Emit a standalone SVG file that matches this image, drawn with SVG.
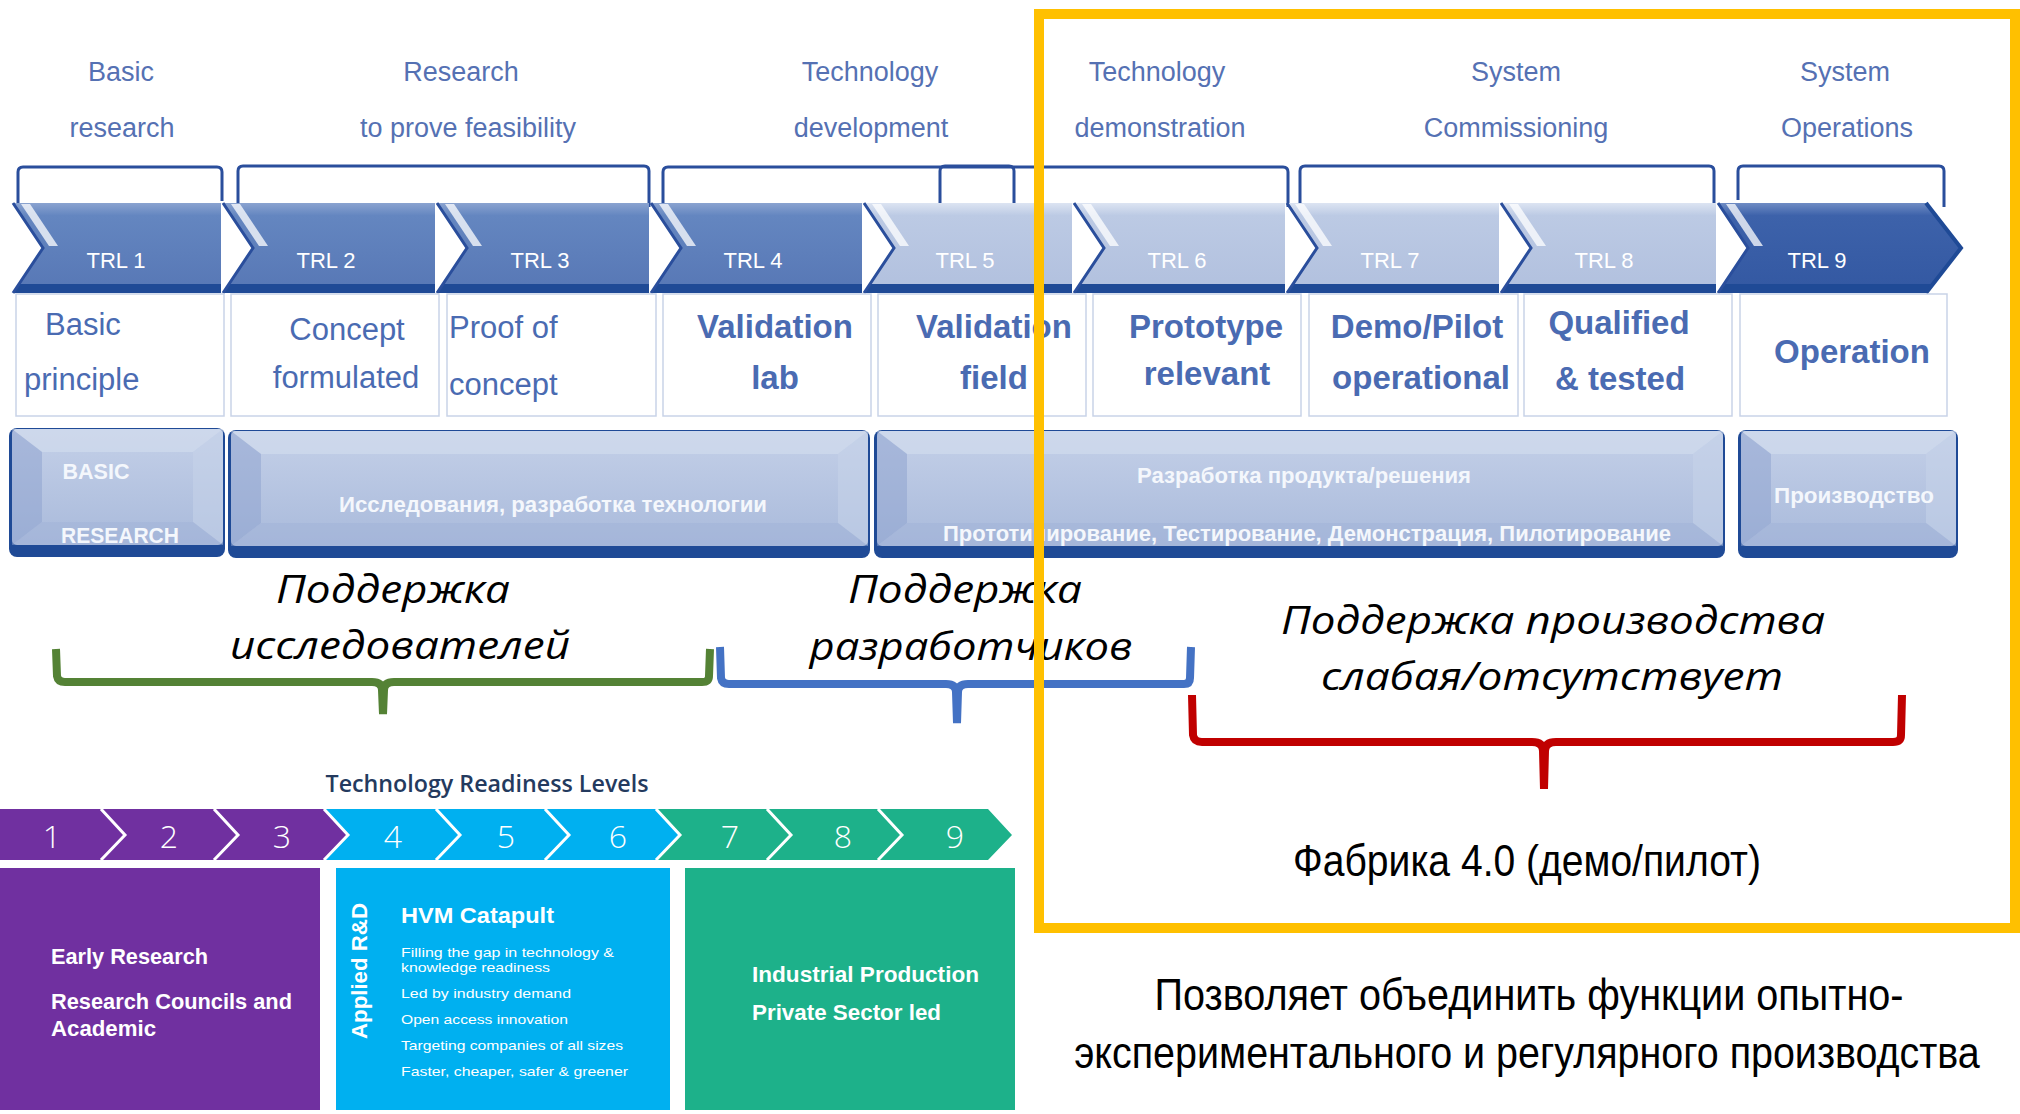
<svg xmlns="http://www.w3.org/2000/svg" width="2020" height="1114" viewBox="0 0 2020 1114">
<defs>
<linearGradient id="chA" x1="0" y1="0" x2="0" y2="1"><stop offset="0" stop-color="#8AA3D0"/><stop offset="0.14" stop-color="#6486C0"/><stop offset="1" stop-color="#5777B5"/></linearGradient>
<linearGradient id="chB" x1="0" y1="0" x2="0" y2="1"><stop offset="0" stop-color="#DCE4F2"/><stop offset="0.14" stop-color="#BCCAE4"/><stop offset="1" stop-color="#B1C0DE"/></linearGradient>
<linearGradient id="chC" x1="0" y1="0" x2="0" y2="1"><stop offset="0" stop-color="#6F8CC4"/><stop offset="0.14" stop-color="#3D62AA"/><stop offset="1" stop-color="#3358A2"/></linearGradient>
<linearGradient id="phG" x1="0" y1="0" x2="0" y2="1"><stop offset="0" stop-color="#C4D0E8"/><stop offset="1" stop-color="#A9BADB"/></linearGradient>
</defs>
<style>
.lbl{font-family:"Liberation Sans",Arial,sans-serif;font-size:27px;fill:#5571B3;text-anchor:middle}
.brk{fill:none;stroke:#2A4E9C;stroke-width:3;stroke-linejoin:round}
.trl{font-family:"Liberation Sans",Arial,sans-serif;font-size:22px;fill:#fff;text-anchor:middle}
.box{fill:#fff;stroke:#C9D3E8;stroke-width:1.5}
.dr{font-family:"Liberation Sans",Arial,sans-serif;font-size:31px;fill:#4A6BB2}
.drm{font-family:"Liberation Sans",Arial,sans-serif;font-size:31px;fill:#4A6BB2;text-anchor:middle}
.db{font-family:"Liberation Sans",Arial,sans-serif;font-size:33px;font-weight:bold;fill:#4A6BB2;text-anchor:middle}
.bot{fill:#1F4A96}
.edge{fill:none;stroke:#2A4E9C;stroke-width:3}
.hl{fill:#fff;opacity:0.75}
.ph{font-family:"Liberation Sans",Arial,sans-serif;font-weight:bold;font-size:22px;fill:#F4F7FC;text-anchor:middle}
.bvT{fill:#D3DDEF;opacity:0.6}
.bvL{fill:#8FA4D0;opacity:0.55}
.bvR{fill:#C7D3EA;opacity:0.55}
.bvB{fill:#9FB2D8;opacity:0.45}
.it{font-family:"Open Sans","Noto Sans",sans-serif;font-style:italic;font-size:38px;fill:#000;text-anchor:middle}
.nar{font-family:"Liberation Sans",Arial,sans-serif;font-size:44px;fill:#000;text-anchor:middle}
.cb{fill:none;stroke-width:8;stroke-linejoin:round;stroke-linecap:butt}
.num{font-family:"Open Sans","Noto Sans",sans-serif;font-weight:300;font-size:32px;fill:#fff;text-anchor:middle}
.sep{fill:none;stroke:#fff;stroke-width:3}
.wb{font-family:"Liberation Sans",Arial,sans-serif;font-weight:bold;font-size:22px;fill:#fff}
.ws{font-family:"Liberation Sans",Arial,sans-serif;font-size:13px;fill:#fff}
</style>
<rect x="0" y="0" width="2020" height="1114" fill="#fff"/>

<g id="phase-labels">
<text class="lbl" x="121" y="81">Basic</text>
<text class="lbl" x="122" y="137">research</text>
<text class="lbl" x="461" y="81">Research</text>
<text class="lbl" x="468" y="137">to prove feasibility</text>
<text class="lbl" x="870" y="81">Technology</text>
<text class="lbl" x="871" y="137">development</text>
<text class="lbl" x="1157" y="81">Technology</text>
<text class="lbl" x="1160" y="137">demonstration</text>
<text class="lbl" x="1516" y="81">System</text>
<text class="lbl" x="1516" y="137">Commissioning</text>
<text class="lbl" x="1845" y="81">System</text>
<text class="lbl" x="1847" y="137">Operations</text>
</g>

<g id="connectors">
<path class="brk" d="M18,203 L18,172 Q18,167 23,167 L217,167 Q222,167 222,172 L222,201"/>
<path class="brk" d="M238,207 L238,171 Q238,166 243,166 L644,166 Q649,166 649,171 L649,207"/>
<path class="brk" d="M663,210 L663,172 Q663,167 668,167 L1283,167 Q1288,167 1288,172 L1288,207"/>
<path class="brk" d="M940,209 L940,171 Q940,166 945,166 L1009,166 Q1014,166 1014,171 L1014,209"/>
<path class="brk" d="M1300,207 L1300,171 Q1300,166 1305,166 L1709,166 Q1714,166 1714,171 L1714,207"/>
<path class="brk" d="M1738,200 L1738,171 Q1738,166 1743,166 L1939,166 Q1944,166 1944,171 L1944,207"/>
</g>

<g id="trl1">
<polygon points="13,203 221,203 221,293 13,293 43,248" fill="url(#chA)"/>
<polygon class="bot" points="19,284 221,284 221,293 13,293"/>
<polyline class="edge" points="13,203 43,248 13,293"/>
<polygon class="hl" points="21,204 30,204 58,246 49,246"/>
<text class="trl" x="116" y="268">TRL 1</text>
</g>
<g id="trl2">
<polygon points="223,203 435,203 435,293 223,293 253,248" fill="url(#chA)"/>
<polygon class="bot" points="229,284 435,284 435,293 223,293"/>
<polyline class="edge" points="223,203 253,248 223,293"/>
<polygon class="hl" points="231,204 240,204 268,246 259,246"/>
<text class="trl" x="326" y="268">TRL 2</text>
</g>
<g id="trl3">
<polygon points="437,203 649,203 649,293 437,293 467,248" fill="url(#chA)"/>
<polygon class="bot" points="443,284 649,284 649,293 437,293"/>
<polyline class="edge" points="437,203 467,248 437,293"/>
<polygon class="hl" points="445,204 454,204 482,246 473,246"/>
<text class="trl" x="540" y="268">TRL 3</text>
</g>
<g id="trl4">
<polygon points="651,203 862,203 862,293 651,293 681,248" fill="url(#chA)"/>
<polygon class="bot" points="657,284 862,284 862,293 651,293"/>
<polyline class="edge" points="651,203 681,248 651,293"/>
<polygon class="hl" points="659,204 668,204 696,246 687,246"/>
<text class="trl" x="753" y="268">TRL 4</text>
</g>
<g id="trl5">
<polygon points="864,203 1072,203 1072,293 864,293 894,248" fill="url(#chB)"/>
<polygon class="bot" points="870,284 1072,284 1072,293 864,293"/>
<polyline class="edge" points="864,203 894,248 864,293"/>
<polygon class="hl" points="872,204 881,204 909,246 900,246"/>
<text class="trl" x="965" y="268">TRL 5</text>
</g>
<g id="trl6">
<polygon points="1074,203 1285,203 1285,293 1074,293 1104,248" fill="url(#chB)"/>
<polygon class="bot" points="1080,284 1285,284 1285,293 1074,293"/>
<polyline class="edge" points="1074,203 1104,248 1074,293"/>
<polygon class="hl" points="1082,204 1091,204 1119,246 1110,246"/>
<text class="trl" x="1177" y="268">TRL 6</text>
</g>
<g id="trl7">
<polygon points="1287,203 1499,203 1499,293 1287,293 1317,248" fill="url(#chB)"/>
<polygon class="bot" points="1293,284 1499,284 1499,293 1287,293"/>
<polyline class="edge" points="1287,203 1317,248 1287,293"/>
<polygon class="hl" points="1295,204 1304,204 1332,246 1323,246"/>
<text class="trl" x="1390" y="268">TRL 7</text>
</g>
<g id="trl8">
<polygon points="1501,203 1716,203 1716,293 1501,293 1531,248" fill="url(#chB)"/>
<polygon class="bot" points="1507,284 1716,284 1716,293 1501,293"/>
<polyline class="edge" points="1501,203 1531,248 1501,293"/>
<polygon class="hl" points="1509,204 1518,204 1546,246 1537,246"/>
<text class="trl" x="1604" y="268">TRL 8</text>
</g>
<g id="trl9">
<polygon points="1718,203 1926,203 1961,248 1926,293 1718,293 1748,248" fill="url(#chC)"/>
<polygon class="bot" points="1724,284 1932,284 1926,293 1718,293"/>
<polyline class="edge" points="1718,203 1748,248 1718,293"/>
<polyline points="1926,203 1961,248 1926,293" fill="none" stroke="#1F4A96" stroke-width="4"/>
<polygon class="hl" points="1726,204 1735,204 1763,246 1754,246"/>
<text class="trl" x="1817" y="268">TRL 9</text>
</g>

<g id="desc1"><rect class="box" x="16" y="294" width="208" height="122"/>
<text class="dr" x="45" y="335">Basic</text><text class="dr" x="24" y="390">principle</text></g>
<g id="desc2"><rect class="box" x="231" y="294" width="208" height="122"/>
<text class="drm" x="347" y="340">Concept</text><text class="drm" x="346" y="388">formulated</text></g>
<g id="desc3"><rect class="box" x="447" y="294" width="209" height="122"/>
<text class="dr" x="449" y="338">Proof of</text><text class="dr" x="449" y="395">concept</text></g>
<g id="desc4"><rect class="box" x="663" y="294" width="208" height="122"/>
<text class="db" x="775" y="338">Validation</text><text class="db" x="775" y="389">lab</text></g>
<g id="desc5"><rect class="box" x="878" y="294" width="208" height="122"/>
<text class="db" x="994" y="338">Validation</text><text class="db" x="994" y="389">field</text></g>
<g id="desc6"><rect class="box" x="1093" y="294" width="208" height="122"/>
<text class="db" x="1206" y="338">Prototype</text><text class="db" x="1207" y="385">relevant</text></g>
<g id="desc7"><rect class="box" x="1309" y="294" width="209" height="122"/>
<text class="db" x="1417" y="338">Demo/Pilot</text><text class="db" x="1421" y="389">operational</text></g>
<g id="desc8"><rect class="box" x="1524" y="294" width="208" height="122"/>
<text class="db" x="1619" y="334">Qualified</text><text class="db" x="1620" y="390">&amp; tested</text></g>
<g id="desc9"><rect class="box" x="1740" y="294" width="207" height="122"/>
<text class="db" x="1852" y="363">Operation</text></g>

<g id="phase-basic">
<rect x="9" y="428" width="216" height="129" rx="8" fill="#1F4A96"/>
<rect x="12" y="429" width="211" height="116" rx="5" fill="url(#phG)"/>
<polygon class="bvT" points="12,429 223,429 193,452 42,452"/>
<polygon class="bvL" points="12,429 42,452 42,522 12,545"/>
<polygon class="bvR" points="223,429 193,452 193,522 223,545"/>
<polygon class="bvB" points="12,545 42,522 193,522 223,545"/>
<text class="ph" x="96" y="479" textLength="67" lengthAdjust="spacingAndGlyphs" font-weight="normal">BASIC</text>
<text class="ph" x="120" y="543" textLength="118" lengthAdjust="spacingAndGlyphs" font-weight="normal">RESEARCH</text>
</g>
<g id="phase-research">
<rect x="228" y="430" width="642" height="128" rx="8" fill="#1F4A96"/>
<rect x="231" y="431" width="637" height="115" rx="5" fill="url(#phG)"/>
<polygon class="bvT" points="231,431 868,431 838,454 261,454"/>
<polygon class="bvL" points="231,431 261,454 261,523 231,546"/>
<polygon class="bvR" points="868,431 838,454 838,523 868,546"/>
<polygon class="bvB" points="231,546 261,523 838,523 868,546"/>
<text class="ph" x="553" y="512" textLength="428" lengthAdjust="spacingAndGlyphs">Исследования, разработка технологии</text>
</g>
<g id="phase-development">
<rect x="874" y="430" width="851" height="128" rx="8" fill="#1F4A96"/>
<rect x="877" y="431" width="846" height="115" rx="5" fill="url(#phG)"/>
<polygon class="bvT" points="877,431 1723,431 1693,454 907,454"/>
<polygon class="bvL" points="877,431 907,454 907,523 877,546"/>
<polygon class="bvR" points="1723,431 1693,454 1693,523 1723,546"/>
<polygon class="bvB" points="877,546 907,523 1693,523 1723,546"/>
<text class="ph" x="1304" y="483" textLength="334" lengthAdjust="spacingAndGlyphs">Разработка продукта/решения</text>
<text class="ph" x="1307" y="541" textLength="728" lengthAdjust="spacingAndGlyphs">Прототипирование, Тестирование, Демонстрация, Пилотирование</text>
</g>
<g id="phase-production">
<rect x="1738" y="430" width="220" height="128" rx="8" fill="#1F4A96"/>
<rect x="1741" y="431" width="215" height="115" rx="5" fill="url(#phG)"/>
<polygon class="bvT" points="1741,431 1956,431 1926,454 1771,454"/>
<polygon class="bvL" points="1741,431 1771,454 1771,523 1741,546"/>
<polygon class="bvR" points="1956,431 1926,454 1926,523 1956,546"/>
<polygon class="bvB" points="1741,546 1771,523 1926,523 1956,546"/>
<text class="ph" x="1854" y="503" textLength="160" lengthAdjust="spacingAndGlyphs">Производство</text>
</g>

<g id="support-researchers">
<path class="cb" stroke="#548235" d="M56,649 L57,676 Q58,682 65,682 L372,682 Q382,682 382,690 L383,714 M383,714 L384,690 Q384,682 394,682 L702,682 Q709,682 709,676 L710,649"/>
<text class="it" x="393" y="603" textLength="234" lengthAdjust="spacingAndGlyphs">Поддержка</text>
<text class="it" x="400" y="659" textLength="340" lengthAdjust="spacingAndGlyphs">исследователей</text>
</g>
<g id="support-developers">
<path class="cb" stroke="#4472C4" d="M720,647 L721,678 Q722,684 729,684 L946,684 Q956,684 956,692 L957,723 M957,723 L958,692 Q958,684 968,684 L1184,684 Q1190,684 1190,678 L1191,647"/>
<text class="it" x="965" y="603" textLength="234" lengthAdjust="spacingAndGlyphs">Поддержка</text>
<text class="it" x="971" y="660" textLength="323" lengthAdjust="spacingAndGlyphs">разработчиков</text>
</g>
<g id="support-production">
<path class="cb" stroke="#C00000" d="M1192,695 L1193,735 Q1194,742 1202,742 L1532,742 Q1543,742 1543,751 L1544,789 M1544,789 L1545,751 Q1545,742 1556,742 L1893,742 Q1901,742 1901,735 L1902,695"/>
<text class="it" x="1553" y="634" textLength="544" lengthAdjust="spacingAndGlyphs">Поддержка производства</text>
<text class="it" x="1552" y="690" textLength="462" lengthAdjust="spacingAndGlyphs">слабая/отсутствует</text>
</g>

<g id="factory-label">
<text class="nar" transform="translate(1527 876) scale(0.86 1)" x="0" y="0" textLength="544" lengthAdjust="spacingAndGlyphs">Фабрика 4.0 (демо/пилот)</text>
</g>
<g id="summary">
<text class="nar" transform="translate(1529 1010) scale(0.86 1)" x="0" y="0" textLength="871" lengthAdjust="spacingAndGlyphs">Позволяет объединить функции опытно-</text>
<text class="nar" transform="translate(1527 1068) scale(0.86 1)" x="0" y="0" textLength="1053" lengthAdjust="spacingAndGlyphs">экспериментального и регулярного производства</text>
</g>

<g id="uk-trl">
<text x="487" y="792" font-family="'Open Sans','Noto Sans',sans-serif" font-weight="600" font-size="23" fill="#243A5E" text-anchor="middle" textLength="323" lengthAdjust="spacingAndGlyphs">Technology Readiness Levels</text>
<polygon points="0,809 324,809 348,835 324,860 0,860" fill="#7030A0"/>
<polygon points="324,809 656,809 680,835 656,860 324,860 348,835" fill="#00B0F0"/>
<polygon points="656,809 988,809 1012,835 988,860 656,860 680,835" fill="#1DB18A"/>
<polyline class="sep" points="101,809 125,835 101,860"/>
<polyline class="sep" points="214,809 238,835 214,860"/>
<polyline class="sep" points="324,809 348,835 324,860"/>
<polyline class="sep" points="436,809 460,835 436,860"/>
<polyline class="sep" points="545,809 569,835 545,860"/>
<polyline class="sep" points="656,809 680,835 656,860"/>
<polyline class="sep" points="767,809 791,835 767,860"/>
<polyline class="sep" points="878,809 902,835 878,860"/>
<text class="num" x="52" y="848">1</text>
<text class="num" x="169" y="848">2</text>
<text class="num" x="282" y="848">3</text>
<text class="num" x="393" y="848">4</text>
<text class="num" x="506" y="848">5</text>
<text class="num" x="618" y="848">6</text>
<text class="num" x="730" y="848">7</text>
<text class="num" x="843" y="848">8</text>
<text class="num" x="955" y="848">9</text>
<rect x="0" y="868" width="320" height="242" fill="#7030A0"/>
<rect x="336" y="868" width="334" height="242" fill="#00B0F0"/>
<rect x="685" y="868" width="330" height="242" fill="#1DB18A"/>
<text class="wb" x="51" y="964" textLength="157" lengthAdjust="spacingAndGlyphs">Early Research</text>
<text class="wb" x="51" y="1009" textLength="241" lengthAdjust="spacingAndGlyphs">Research Councils and</text>
<text class="wb" x="51" y="1036" textLength="105" lengthAdjust="spacingAndGlyphs">Academic</text>
<text x="367" y="1039" transform="rotate(-90 367 1039)" font-family="'Liberation Sans',Arial,sans-serif" font-weight="bold" font-size="22" fill="#fff" textLength="136" lengthAdjust="spacingAndGlyphs">Applied R&amp;D</text>
<text class="wb" x="401" y="923" textLength="153" lengthAdjust="spacingAndGlyphs">HVM Catapult</text>
<text class="ws" x="401" y="957" textLength="213" lengthAdjust="spacingAndGlyphs">Filling the gap in technology &amp;</text>
<text class="ws" x="401" y="972" textLength="149" lengthAdjust="spacingAndGlyphs">knowledge readiness</text>
<text class="ws" x="401" y="998" textLength="170" lengthAdjust="spacingAndGlyphs">Led by industry demand</text>
<text class="ws" x="401" y="1024" textLength="167" lengthAdjust="spacingAndGlyphs">Open access innovation</text>
<text class="ws" x="401" y="1050" textLength="222" lengthAdjust="spacingAndGlyphs">Targeting companies of all sizes</text>
<text class="ws" x="401" y="1076" textLength="227" lengthAdjust="spacingAndGlyphs">Faster, cheaper, safer &amp; greener</text>
<text class="wb" x="752" y="982" textLength="227" lengthAdjust="spacingAndGlyphs">Industrial Production</text>
<text class="wb" x="752" y="1020" textLength="189" lengthAdjust="spacingAndGlyphs">Private Sector led</text>
</g>

<g id="factory-frame">
<rect x="1039" y="14" width="976" height="914" fill="none" stroke="#FFC000" stroke-width="10"/>
</g>
</svg>
